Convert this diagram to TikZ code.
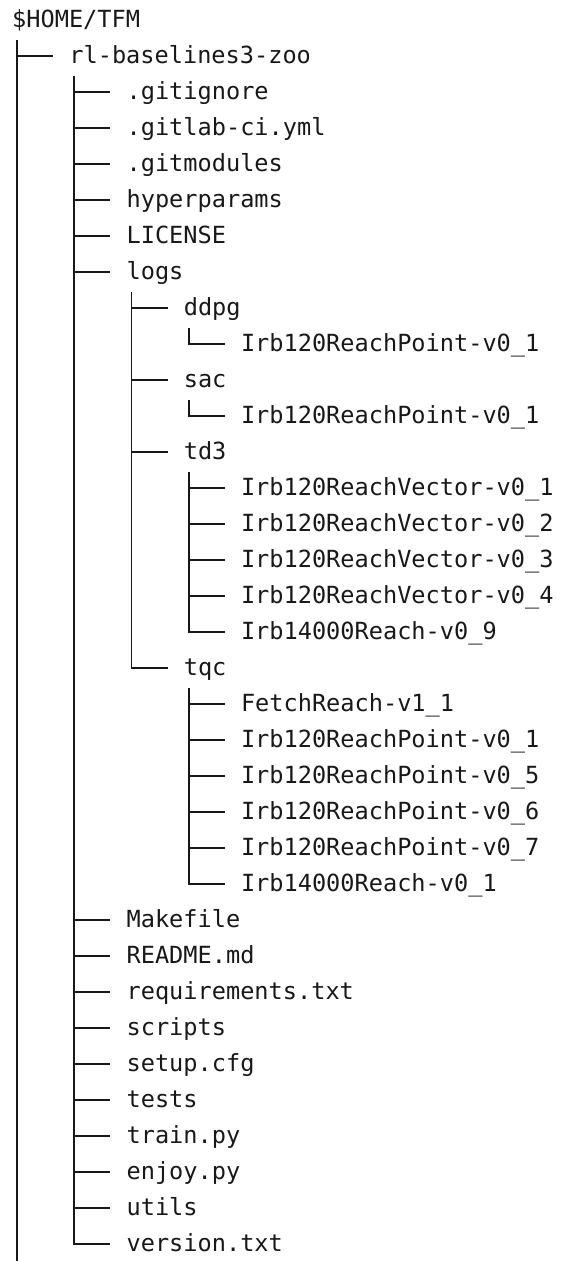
\documentclass[tikz,border=0pt]{standalone}
\usepackage{fontspec}
\setmonofont{DejaVu Sans Mono}
\usetikzlibrary{calc}
\definecolor{InkGray}{RGB}{24,24,24}

% one character cell of the listing
\newcommand{\chw}{14.3pt}
\newcommand{\rowh}{36pt}

\begin{document}
\begin{tikzpicture}[
    entry/.style={anchor=base west, inner sep=0pt, text=InkGray,
                  font=\ttfamily\fontsize{23.6}{28}\selectfont},
    branch/.style={draw=InkGray, line width=1.8pt},
]
\useasboundingbox (-12pt,27pt) rectangle (555pt,-1234pt);

% ── Root ──
\node[entry] (root) at (0,0) {\$HOME/TFM};
\node[entry] (zoo) at (4*\chw,-1*\rowh) {rl-baselines3-zoo};

% ── Top level of the zoo ──
\node[entry] (gitignore)  at (8*\chw,-2*\rowh) {.gitignore};
\node[entry] (gitlabci)   at (8*\chw,-3*\rowh) {.gitlab-ci.yml};
\node[entry] (gitmodules) at (8*\chw,-4*\rowh) {.gitmodules};
\node[entry] (hyper)      at (8*\chw,-5*\rowh) {hyperparams};
\node[entry] (license)    at (8*\chw,-6*\rowh) {LICENSE};
\node[entry] (logs)       at (8*\chw,-7*\rowh) {logs};

% ── logs: one folder per algorithm ──
\node[entry] (ddpg)  at (12*\chw,-8*\rowh)  {ddpg};
\node[entry] (ddpgA) at (16*\chw,-9*\rowh)  {Irb120ReachPoint-v0\_1};
\node[entry] (sac)   at (12*\chw,-10*\rowh) {sac};
\node[entry] (sacA)  at (16*\chw,-11*\rowh) {Irb120ReachPoint-v0\_1};
\node[entry] (tdthree) at (12*\chw,-12*\rowh) {td3};
\node[entry] (tdA) at (16*\chw,-13*\rowh) {Irb120ReachVector-v0\_1};
\node[entry] (tdB) at (16*\chw,-14*\rowh) {Irb120ReachVector-v0\_2};
\node[entry] (tdC) at (16*\chw,-15*\rowh) {Irb120ReachVector-v0\_3};
\node[entry] (tdD) at (16*\chw,-16*\rowh) {Irb120ReachVector-v0\_4};
\node[entry] (tdE) at (16*\chw,-17*\rowh) {Irb14000Reach-v0\_9};
\node[entry] (tqc)  at (12*\chw,-18*\rowh) {tqc};
\node[entry] (tqcA) at (16*\chw,-19*\rowh) {FetchReach-v1\_1};
\node[entry] (tqcB) at (16*\chw,-20*\rowh) {Irb120ReachPoint-v0\_1};
\node[entry] (tqcC) at (16*\chw,-21*\rowh) {Irb120ReachPoint-v0\_5};
\node[entry] (tqcD) at (16*\chw,-22*\rowh) {Irb120ReachPoint-v0\_6};
\node[entry] (tqcE) at (16*\chw,-23*\rowh) {Irb120ReachPoint-v0\_7};
\node[entry] (tqcF) at (16*\chw,-24*\rowh) {Irb14000Reach-v0\_1};

% ── Rest of the zoo ──
\node[entry] (makefile) at (8*\chw,-25*\rowh) {Makefile};
\node[entry] (readme)   at (8*\chw,-26*\rowh) {README.md};
\node[entry] (reqs)     at (8*\chw,-27*\rowh) {requirements.txt};
\node[entry] (scripts)  at (8*\chw,-28*\rowh) {scripts};
\node[entry] (setup)    at (8*\chw,-29*\rowh) {setup.cfg};
\node[entry] (tests)    at (8*\chw,-30*\rowh) {tests};
\node[entry] (train)    at (8*\chw,-31*\rowh) {train.py};
\node[entry] (enjoy)    at (8*\chw,-32*\rowh) {enjoy.py};
\node[entry] (utils)    at (8*\chw,-33*\rowh) {utils};
\node[entry] (version)  at (8*\chw,-34*\rowh) {version.txt};

% ── Branches: down from the parent, across to the child ──
\coordinate (more) at (5pt,-1234pt);
\draw[branch] ([xshift=5pt,yshift=-13pt]root.base west) -- (more);
\draw[branch] ([xshift=5pt,yshift=-13pt]root.base west) |- ([xshift=-16pt,yshift=7pt]zoo.base west);

\draw[branch] ([xshift=5pt,yshift=-13pt]zoo.base west) |- ([xshift=-16pt,yshift=7pt]gitignore.base west);
\draw[branch] ([xshift=5pt,yshift=-13pt]zoo.base west) |- ([xshift=-16pt,yshift=7pt]gitlabci.base west);
\draw[branch] ([xshift=5pt,yshift=-13pt]zoo.base west) |- ([xshift=-16pt,yshift=7pt]gitmodules.base west);
\draw[branch] ([xshift=5pt,yshift=-13pt]zoo.base west) |- ([xshift=-16pt,yshift=7pt]hyper.base west);
\draw[branch] ([xshift=5pt,yshift=-13pt]zoo.base west) |- ([xshift=-16pt,yshift=7pt]license.base west);
\draw[branch] ([xshift=5pt,yshift=-13pt]zoo.base west) |- ([xshift=-16pt,yshift=7pt]logs.base west);
\draw[branch] ([xshift=5pt,yshift=-13pt]zoo.base west) |- ([xshift=-16pt,yshift=7pt]makefile.base west);
\draw[branch] ([xshift=5pt,yshift=-13pt]zoo.base west) |- ([xshift=-16pt,yshift=7pt]readme.base west);
\draw[branch] ([xshift=5pt,yshift=-13pt]zoo.base west) |- ([xshift=-16pt,yshift=7pt]reqs.base west);
\draw[branch] ([xshift=5pt,yshift=-13pt]zoo.base west) |- ([xshift=-16pt,yshift=7pt]scripts.base west);
\draw[branch] ([xshift=5pt,yshift=-13pt]zoo.base west) |- ([xshift=-16pt,yshift=7pt]setup.base west);
\draw[branch] ([xshift=5pt,yshift=-13pt]zoo.base west) |- ([xshift=-16pt,yshift=7pt]tests.base west);
\draw[branch] ([xshift=5pt,yshift=-13pt]zoo.base west) |- ([xshift=-16pt,yshift=7pt]train.base west);
\draw[branch] ([xshift=5pt,yshift=-13pt]zoo.base west) |- ([xshift=-16pt,yshift=7pt]enjoy.base west);
\draw[branch] ([xshift=5pt,yshift=-13pt]zoo.base west) |- ([xshift=-16pt,yshift=7pt]utils.base west);
\draw[branch] ([xshift=5pt,yshift=-13pt]zoo.base west) |- ([xshift=-16pt,yshift=7pt]version.base west);

\draw[branch] ([xshift=5pt,yshift=-13pt]logs.base west) |- ([xshift=-16pt,yshift=7pt]ddpg.base west);
\draw[branch] ([xshift=5pt,yshift=-13pt]logs.base west) |- ([xshift=-16pt,yshift=7pt]sac.base west);
\draw[branch] ([xshift=5pt,yshift=-13pt]logs.base west) |- ([xshift=-16pt,yshift=7pt]tdthree.base west);
\draw[branch] ([xshift=5pt,yshift=-13pt]logs.base west) |- ([xshift=-16pt,yshift=7pt]tqc.base west);

\draw[branch] ([xshift=5pt,yshift=-13pt]ddpg.base west) |- ([xshift=-16pt,yshift=7pt]ddpgA.base west);
\draw[branch] ([xshift=5pt,yshift=-13pt]sac.base west) |- ([xshift=-16pt,yshift=7pt]sacA.base west);

\draw[branch] ([xshift=5pt,yshift=-13pt]tdthree.base west) |- ([xshift=-16pt,yshift=7pt]tdA.base west);
\draw[branch] ([xshift=5pt,yshift=-13pt]tdthree.base west) |- ([xshift=-16pt,yshift=7pt]tdB.base west);
\draw[branch] ([xshift=5pt,yshift=-13pt]tdthree.base west) |- ([xshift=-16pt,yshift=7pt]tdC.base west);
\draw[branch] ([xshift=5pt,yshift=-13pt]tdthree.base west) |- ([xshift=-16pt,yshift=7pt]tdD.base west);
\draw[branch] ([xshift=5pt,yshift=-13pt]tdthree.base west) |- ([xshift=-16pt,yshift=7pt]tdE.base west);

\draw[branch] ([xshift=5pt,yshift=-13pt]tqc.base west) |- ([xshift=-16pt,yshift=7pt]tqcA.base west);
\draw[branch] ([xshift=5pt,yshift=-13pt]tqc.base west) |- ([xshift=-16pt,yshift=7pt]tqcB.base west);
\draw[branch] ([xshift=5pt,yshift=-13pt]tqc.base west) |- ([xshift=-16pt,yshift=7pt]tqcC.base west);
\draw[branch] ([xshift=5pt,yshift=-13pt]tqc.base west) |- ([xshift=-16pt,yshift=7pt]tqcD.base west);
\draw[branch] ([xshift=5pt,yshift=-13pt]tqc.base west) |- ([xshift=-16pt,yshift=7pt]tqcE.base west);
\draw[branch] ([xshift=5pt,yshift=-13pt]tqc.base west) |- ([xshift=-16pt,yshift=7pt]tqcF.base west);

\end{tikzpicture}
\end{document}
